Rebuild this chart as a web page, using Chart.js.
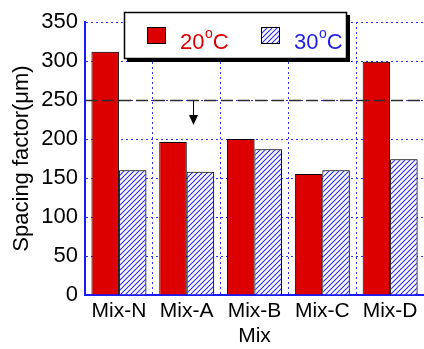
<!DOCTYPE html>
<html>
<head>
<meta charset="utf-8">
<script src="https://cdn.jsdelivr.net/npm/chart.js@4/dist/chart.umd.min.js"></script>
<style>
  html, body { margin: 0; padding: 0; background: #fff; }
  #wrap { width: 424px; height: 349px; position: relative; }
</style>
</head>
<body>
<div id="wrap"><canvas id="c" width="424" height="349"></canvas></div>
<script>
// Spacing factor of each mix at two curing temperatures
const mixes = ['Mix-N', 'Mix-A', 'Mix-B', 'Mix-C', 'Mix-D'];
const spacing20 = [312, 196, 200, 155, 299];
const spacing30 = [160, 158, 187, 160, 174];
const seriesNames = ['20', '30'];          // temperatures, °C
const yTicks = [0, 50, 100, 150, 200, 250, 300, 350];
const limitValue = 250;                     // recommended upper limit
const arrowTip = 218;                       // arrow points down from the limit to here

const RED = '#dd0000';
const BLUE = '#1e1ee6';
const FONT = '"Liberation Sans", Arial, Helvetica, sans-serif';

// diagonal hatch for the 30 °C bars
function hatchPattern() {
  const s = 5;
  const p = document.createElement('canvas');
  p.width = s; p.height = s;
  const g = p.getContext('2d');
  g.fillStyle = '#fff';
  g.fillRect(0, 0, s, s);
  g.strokeStyle = '#2a2aff';
  g.lineWidth = 1.1;
  g.beginPath();
  g.moveTo(-1, s + 1); g.lineTo(s + 1, -1);
  g.moveTo(-1, 1); g.lineTo(1, -1);
  g.moveTo(s - 1, s + 1); g.lineTo(s + 1, s - 1);
  g.stroke();
  return g.createPattern(p, 'repeat');
}
const hatch = hatchPattern();

// soft drop shadow beside the bars
const barShadow = {
  id: 'barShadow',
  beforeDatasetsDraw(chart) {
    const ctx = chart.ctx;
    ctx.save();
    ctx.shadowColor = 'rgba(0,0,0,0.35)';
    ctx.shadowOffsetX = 2;
    ctx.shadowOffsetY = 0;
    ctx.shadowBlur = 0;
  },
  afterDatasetsDraw(chart) { chart.ctx.restore(); }
};

// dashed limit line and downward arrow
const limitLine = {
  id: 'limitLine',
  afterDatasetsDraw(chart) {
    const { ctx, chartArea, scales } = chart;
    const y = Math.round(scales.y.getPixelForValue(limitValue)) + 0.5;
    ctx.save();
    ctx.strokeStyle = '#2e2e2e';
    ctx.lineWidth = 1.5;
    ctx.setLineDash([12, 5]);
    ctx.beginPath();
    ctx.moveTo(chartArea.left, y);
    ctx.lineTo(chartArea.right, y);
    ctx.stroke();
    ctx.setLineDash([]);
    const cw = scales.x.getPixelForValue(1) - scales.x.getPixelForValue(0);
    const ax = Math.round(scales.x.getPixelForValue(1) + 0.09 * cw) + 0.5;
    const ty = scales.y.getPixelForValue(arrowTip);
    ctx.strokeStyle = '#000';
    ctx.lineWidth = 1;
    ctx.beginPath();
    ctx.moveTo(ax, y);
    ctx.lineTo(ax, ty - 9);
    ctx.stroke();
    ctx.fillStyle = '#000';
    ctx.beginPath();
    ctx.moveTo(ax - 4.5, ty - 10);
    ctx.lineTo(ax + 4.5, ty - 10);
    ctx.lineTo(ax, ty);
    ctx.closePath();
    ctx.fill();
    ctx.restore();
  }
};

// boxed legend with shadow and superscript degree mark
const boxLegend = {
  id: 'boxLegend',
  afterDraw(chart) {
    const ctx = chart.ctx;
    const bx = 124, by = 12, bw = 223, bh = 47;
    ctx.save();
    ctx.fillStyle = '#000';
    ctx.fillRect(bx + 3, by + 3, bw, bh);
    ctx.fillStyle = '#fff';
    ctx.fillRect(bx, by, bw, bh);
    ctx.strokeStyle = '#000';
    ctx.lineWidth = 1.5;
    ctx.strokeRect(bx + 0.5, by + 0.5, bw - 1, bh - 1);

    function entry(sx, fill, color, label) {
      ctx.fillStyle = fill;
      ctx.fillRect(sx, 27, 19, 17);
      ctx.strokeStyle = '#000';
      ctx.lineWidth = 1;
      ctx.strokeRect(sx + 0.5, 27.5, 18, 16);
      let tx = sx + 33;
      const base = 49;
      ctx.fillStyle = color;
      ctx.textBaseline = 'alphabetic';
      ctx.textAlign = 'left';
      ctx.font = '22px ' + FONT;
      ctx.fillText(label, tx, base);
      tx += ctx.measureText(label).width + 0.5;
      ctx.font = '14px ' + FONT;
      ctx.fillText('o', tx, base - 11);
      tx += ctx.measureText('o').width;
      ctx.font = '22px ' + FONT;
      ctx.fillText('C', tx, base);
    }
    entry(147, RED, RED, seriesNames[0]);
    entry(261, hatch, BLUE, seriesNames[1]);
    ctx.restore();
  }
};

new Chart(document.getElementById('c'), {
  type: 'bar',
  data: {
    labels: mixes,
    datasets: [
      { label: seriesNames[0] + '°C', data: spacing20, backgroundColor: RED,
        borderColor: '#000', borderWidth: 1, borderSkipped: 'bottom' },
      { label: seriesNames[1] + '°C', data: spacing30, backgroundColor: hatch,
        borderColor: '#000', borderWidth: 1, borderSkipped: 'bottom' }
    ]
  },
  options: {
    responsive: false,
    animation: false,
    events: [],
    layout: { padding: { top: 22, right: 0, left: 0, bottom: 0 } },
    datasets: { bar: { categoryPercentage: 0.81, barPercentage: 1.0 } },
    plugins: { legend: { display: false }, tooltip: { enabled: false } },
    scales: {
      x: {
        offset: true,
        grid: { offset: true, color: '#2f2fff', lineWidth: 1, drawTicks: false },
        border: { display: true, color: '#1a1aff', width: 2, dash: [2, 3] },
        ticks: { color: '#000', font: { family: FONT, size: 21 }, padding: 4 },
        title: { display: true, text: 'Mix', color: '#000',
                 font: { family: FONT, size: 21 }, padding: { top: 7, bottom: 0 } },
        afterFit(s) { s.height = 54; }
      },
      y: {
        min: 0, max: 350,
        afterBuildTicks(s) { s.ticks = yTicks.map(v => ({ value: v })); },
        grid: { color: '#2f2fff', lineWidth: 1, drawTicks: false },
        border: { display: true, color: '#1a1aff', width: 2, dash: [2, 3] },
        ticks: { color: '#000', font: { family: FONT, size: 22 }, padding: 7 },
        title: { display: true, text: 'Spacing factor(μm)', color: '#000',
                 font: { family: FONT, size: 22 }, padding: { top: 9, bottom: 0 } },
        afterFit(s) { s.width = 85; }
      }
    }
  },
  plugins: [barShadow, limitLine, boxLegend]
});
</script>
</body>
</html>
